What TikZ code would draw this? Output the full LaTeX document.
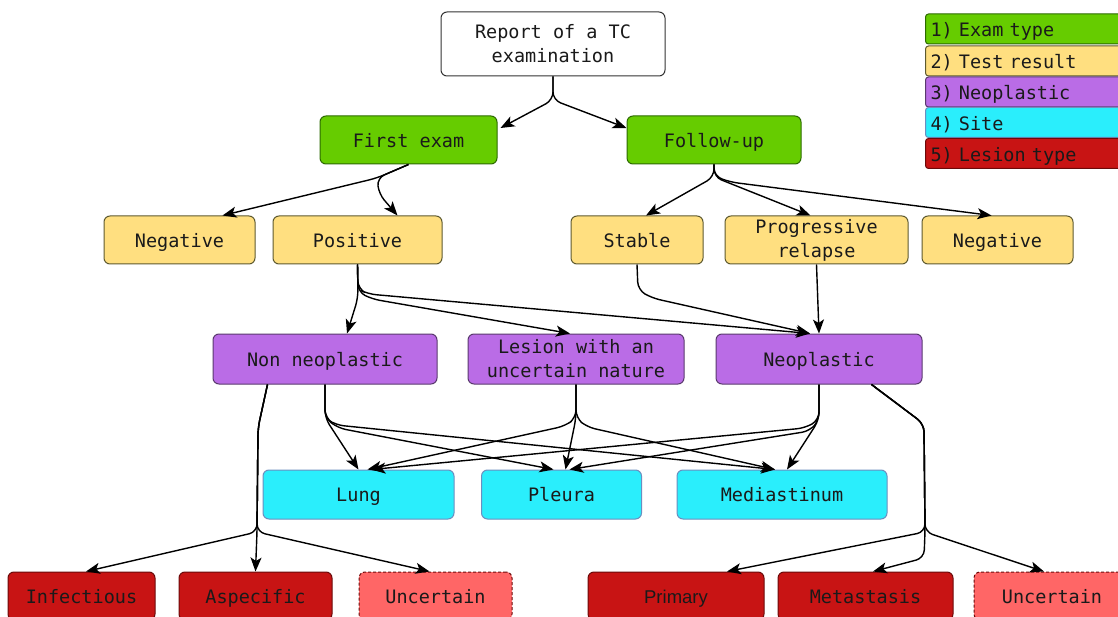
\documentclass[tikz,border=0pt]{standalone}
\usepackage{fontspec}
\setmonofont{DejaVu Sans Mono}
\newfontfamily\primfont{Liberation Sans}
\usetikzlibrary{arrows.meta,calc}
\definecolor{cgreen}{HTML}{66CC00}
\definecolor{cgreenb}{HTML}{2D6B00}
\definecolor{cyellow}{HTML}{FFDF80}
\definecolor{cyellowb}{HTML}{5E5A30}
\definecolor{cpurple}{HTML}{BA6CE6}
\definecolor{cpurpleb}{HTML}{5A3A6E}
\definecolor{ccyan}{HTML}{2AEEFC}
\definecolor{ccyanb}{HTML}{6C8EBF}
\definecolor{cred}{HTML}{C81414}
\definecolor{credb}{HTML}{6B0A0A}
\definecolor{clred}{HTML}{FF6666}
\definecolor{ctext}{HTML}{1A1A1A}
\tikzset{
  box/.style={draw, rounded corners=6pt, line width=1pt, minimum height=48pt, inner sep=0pt,
    align=center, font=\ttfamily\fontsize{18.5}{24}\selectfont, text=ctext},
  sl/.style={text height=14.5pt, text depth=0pt},
  greenbox/.style={box, fill=cgreen, draw=cgreenb},
  yellowbox/.style={box, fill=cyellow, draw=cyellowb},
  purplebox/.style={box, fill=cpurple, draw=cpurpleb, minimum height=50pt},
  cyanbox/.style={box, fill=ccyan, draw=ccyanb, minimum height=49pt},
  redbox/.style={box, fill=cred, draw=credb},
  uncbox/.style={box, fill=clred, draw=credb, dash pattern=on 3pt off 2pt},
  legbox/.style={draw, rounded corners=3pt, line width=1pt, anchor=west, minimum height=30pt,
    text width=190pt, inner xsep=5pt, inner ysep=0pt, align=left, text height=16pt, text depth=0pt,
    font=\ttfamily\fontsize{18.5}{24}\selectfont, text=ctext},
  conn/.style={line width=1.4pt, draw=black, rounded corners=8pt,
    -{Stealth[length=14pt,width=11pt,inset=3.5pt]}},
}
\begin{document}
\begin{tikzpicture}[x=1pt,y=-1pt]
\fill[white] (0,0) rectangle (1118,617);
\useasboundingbox (0,0) rectangle (1118,617);

% level 0
\node[box, fill=white, draw=black!80, minimum width=224pt, minimum height=64pt] (report) at (553,44) {Report of a TC\\examination};
% level 1
\node[greenbox, sl, minimum width=177pt] (first) at (408.5,140) {First exam};
\node[greenbox, sl, minimum width=174pt] (follow) at (714,140) {Follow-up};
% level 2
\node[yellowbox, sl, minimum width=151pt] (negL) at (179.5,240) {Negative};
\node[yellowbox, sl, minimum width=169pt] (pos) at (357.5,240) {Positive};
\node[yellowbox, sl, minimum width=132pt] (stable) at (637,240) {Stable};
\node[yellowbox, minimum width=183pt] (prog) at (816.5,240) {Progressive\\relapse};
\node[yellowbox, sl, minimum width=151pt] (negR) at (997.5,240) {Negative};
% level 3
\node[purplebox, sl, minimum width=224pt] (nonneo) at (325,359) {Non neoplastic};
\node[purplebox, minimum width=216pt] (lesion) at (576,359) {Lesion with an\\uncertain nature};
\node[purplebox, sl, minimum width=206pt] (neo) at (819,359) {Neoplastic};
% level 4
\node[cyanbox, sl, minimum width=191pt] (lung) at (358.5,494.5) {Lung};
\node[cyanbox, sl, minimum width=160pt] (pleura) at (561.5,494.5) {Pleura};
\node[cyanbox, sl, minimum width=210pt] (medi) at (782,494.5) {Mediastinum};
% level 5
\node[redbox, sl, minimum width=147pt] (infect) at (81.5,596) {Infectious};
\node[redbox, sl, minimum width=153pt] (aspec) at (255.5,596) {Aspecific};
\node[uncbox, sl, minimum width=153pt] (uncL) at (435.5,596) {Uncertain};
\node[redbox, sl, minimum width=176pt, font=\primfont\fontsize{18.5}{24}\selectfont] (primary) at (676,596) {Primary};
\node[redbox, sl, minimum width=175pt] (meta) at (865.5,596) {Metastasis};
\node[uncbox, sl, minimum width=156pt] (uncR) at (1052,596) {Uncertain};

% legend
\node[legbox, fill=cgreen, draw=cgreenb] (leg1) at (925,29) {1) Exam type};
\node[legbox, fill=cyellow, draw=cyellowb] (leg2) at (925,61) {2) Test result};
\node[legbox, fill=cpurple, draw=cpurpleb] (leg3) at (925,92) {3) Neoplastic};
\node[legbox, fill=ccyan, draw=ccyanb] (leg4) at (925,122.5) {4) Site};
\node[legbox, fill=cred, draw=credb] (leg5) at (925,153.5) {5) Lesion type};

% connectors
\draw[conn] (report.south) -- (553,100) -- ($(first.east)+(3,-12)$);
\draw[conn] (report.south) -- (553,100) -- ($(follow.west)+(0,-12)$);

\draw[conn] (first.south) -- (377,178) -- ($(negL.north)+(43,0)$);
\draw[conn] (first.south) -- (377,178) -- (379,194) -- ($(pos.north)+(40,0)$);

\draw[conn] (follow.south) -- (714,177) -- ($(stable.north)+(9,0)$);
\draw[conn] (follow.south) -- (714,177) -- ($(prog.north)+(-6,0)$);
\draw[conn] (follow.south) -- (714,176) -- (730,182) -- ($(negR.north)+(-6,0)$);

\draw[conn] (pos.south) -- (358,298) -- ($(nonneo.north)+(22,0)$);
\draw[conn] (pos.south) -- (358,292) -- (372,299) -- ($(lesion.north)+(-6,0)$);
\draw[conn] (pos.south) -- (358,289) -- (368,294) -- ($(neo.north)+(-9,0)$);
\draw[conn] (stable.south) -- (638,290) -- (652,298) -- ($(neo.north)+(-9,0)$);
\draw[conn] (prog.south) -- ($(neo.north)+(0,0)$);

\draw[conn] (nonneo.south) -- (325,418) -- ($(lung.north)+(0,0)$);
\draw[conn] (nonneo.south) -- (325,418) -- (338,428) -- ($(pleura.north)+(-8,0)$);
\draw[conn] (nonneo.south) -- (325,418) -- (336,425) -- ($(medi.north)+(-7,0)$);

\draw[conn] (lesion.south) -- (576,418) -- (565,426) -- ($(lung.north)+(9,0)$);
\draw[conn] (lesion.south) -- (576,418) -- ($(pleura.north)+(4,0)$);
\draw[conn] (lesion.south) -- (576,418) -- (587,427) -- ($(medi.north)+(-7,0)$);

\draw[conn] (neo.south) -- (819,420) -- (805,428) -- ($(lung.north)+(13,0)$);
\draw[conn] (neo.south) -- (819,420) -- (810,431) -- ($(pleura.north)+(8,0)$);
\draw[conn] (neo.south) -- (819,420) -- ($(medi.north)+(5,0)$);

\draw[conn] ($(nonneo.south west)+(55,0)$) -- (258,428) -- (257,532) -- (aspec.north);
\draw[conn] ($(nonneo.south west)+(55,0)$) -- (258,428) -- (257,532) -- ($(infect.north)+(4.5,0)$);
\draw[conn] ($(nonneo.south west)+(55,0)$) -- (258,428) -- (257,532) -- ($(uncL.north)+(-6,0)$);

\draw[conn] ($(neo.south west)+(156,0)$) -- (924,424) -- (925,532) -- ($(primary.north)+(51,0)$);
\draw[conn] ($(neo.south west)+(156,0)$) -- (924,424) -- (925,532) -- (924,558) -- ($(meta.north)+(7.5,0)$);
\draw[conn] ($(neo.south west)+(156,0)$) -- (924,424) -- (925,532) -- ($(uncR.north)+(-8,0)$);
\end{tikzpicture}
\end{document}
